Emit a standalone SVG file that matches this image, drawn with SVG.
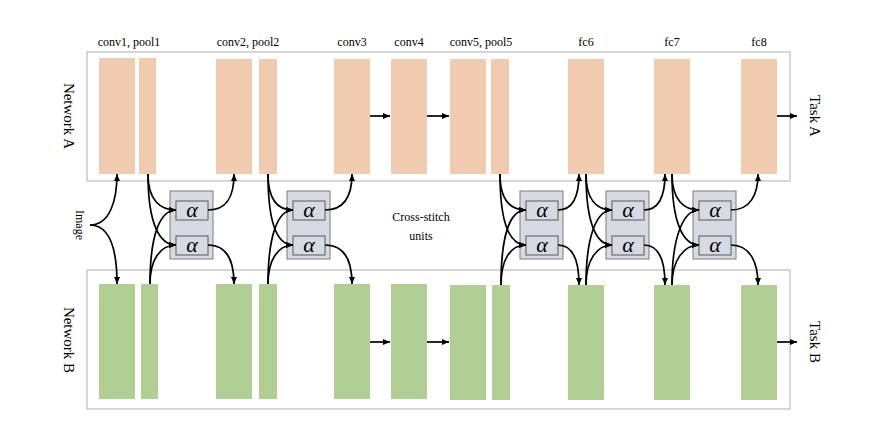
<svg xmlns="http://www.w3.org/2000/svg" width="873" height="447" viewBox="0 0 873 447">
<defs>
<marker id="ah" markerWidth="8" markerHeight="8" refX="7" refY="4" orient="auto" markerUnits="userSpaceOnUse"><path d="M0,1 L7,4 L0,7 z" fill="#000"/></marker>
<style>
.fr{fill:none;stroke:#bdbdbd;stroke-width:1.2}
.a{fill:#f0cbb0}.b{fill:#b1cf95}
.u{fill:#d6dae2;stroke:#7d7d7d;stroke-width:1}
.al{fill:#d6dae2;stroke:#6e6e6e;stroke-width:1.2}
.t{font-family:'Liberation Serif','DejaVu Serif',serif;font-size:12px;fill:#000}
.big{font-family:'Liberation Serif','DejaVu Serif',serif;font-size:15px;fill:#000}
.g{font-family:'Liberation Serif','DejaVu Serif',serif;font-style:italic;font-size:22px;fill:#000}
.c path{fill:none;stroke:#000;stroke-width:1.7}
</style>
</defs>
<rect width="873" height="447" fill="#fff"/>
<rect class="fr" x="87" y="52" width="703" height="129"/>
<rect class="fr" x="87" y="270" width="703" height="139"/>
<g id="labels">
<text class="t" x="129" y="46" text-anchor="middle">conv1, pool1</text>
<text class="t" x="248" y="46" text-anchor="middle">conv2, pool2</text>
<text class="t" x="352" y="46" text-anchor="middle">conv3</text>
<text class="t" x="409" y="46" text-anchor="middle">conv4</text>
<text class="t" x="481" y="46" text-anchor="middle">conv5, pool5</text>
<text class="t" x="586" y="46" text-anchor="middle">fc6</text>
<text class="t" x="672" y="46" text-anchor="middle">fc7</text>
<text class="t" x="759" y="46" text-anchor="middle">fc8</text>
<text class="big" transform="translate(64,116) rotate(90)" text-anchor="middle">Network A</text>
<text class="big" transform="translate(64,340) rotate(90)" text-anchor="middle">Network B</text>
<text class="big" transform="translate(810,116) rotate(90)" text-anchor="middle">Task A</text>
<text class="big" transform="translate(810,342) rotate(90)" text-anchor="middle">Task B</text>
<text class="t" transform="translate(76,225) rotate(90)" text-anchor="middle">Image</text>
<text class="t" x="421" y="221" text-anchor="middle">Cross-stitch</text>
<text class="t" x="421" y="240" text-anchor="middle">units</text>
</g>
<g id="networkA">
<rect class="a" x="99" y="58" width="36" height="116"/><rect class="a" x="139" y="58" width="17" height="116"/>
<rect class="a" x="216" y="59" width="36" height="115"/><rect class="a" x="259" y="59" width="18" height="115"/>
<rect class="a" x="334" y="59" width="36" height="115"/><rect class="a" x="391" y="59" width="36" height="115"/>
<rect class="a" x="450" y="59" width="36" height="115"/><rect class="a" x="491" y="59" width="18" height="115"/>
<rect class="a" x="568" y="59" width="36" height="115"/><rect class="a" x="654" y="59" width="36" height="115"/>
<rect class="a" x="741" y="59" width="36" height="115"/>
</g>
<g id="networkB">
<rect class="b" x="99" y="284" width="36" height="115"/><rect class="b" x="141" y="284" width="17" height="115"/>
<rect class="b" x="216" y="284" width="36" height="115"/><rect class="b" x="259" y="284" width="18" height="115"/>
<rect class="b" x="334" y="284" width="36" height="115"/><rect class="b" x="391" y="284" width="36" height="115"/>
<rect class="b" x="450" y="285" width="36" height="115"/><rect class="b" x="492" y="285" width="18" height="115"/>
<rect class="b" x="568" y="285" width="36" height="115"/><rect class="b" x="654" y="285" width="36" height="115"/>
<rect class="b" x="741" y="285" width="36" height="115"/>
</g>
<g id="unit1"><rect class="u" x="170" y="191" width="43" height="68"/><rect class="al" x="176" y="201" width="32" height="19"/><rect class="al" x="176" y="236" width="32" height="19"/><text class="g" x="192" y="217" text-anchor="middle">α</text><text class="g" x="192" y="252" text-anchor="middle">α</text></g>
<g id="unit2"><rect class="u" x="287" y="191" width="43" height="68"/><rect class="al" x="293" y="201" width="32" height="19"/><rect class="al" x="293" y="236" width="32" height="19"/><text class="g" x="309" y="217" text-anchor="middle">α</text><text class="g" x="309" y="252" text-anchor="middle">α</text></g>
<g id="unit3"><rect class="u" x="520" y="191" width="43" height="68"/><rect class="al" x="526" y="201" width="32" height="19"/><rect class="al" x="526" y="236" width="32" height="19"/><text class="g" x="542" y="217" text-anchor="middle">α</text><text class="g" x="542" y="252" text-anchor="middle">α</text></g>
<g id="unit4"><rect class="u" x="606" y="191" width="43" height="68"/><rect class="al" x="612" y="201" width="32" height="19"/><rect class="al" x="612" y="236" width="32" height="19"/><text class="g" x="628" y="217" text-anchor="middle">α</text><text class="g" x="628" y="252" text-anchor="middle">α</text></g>
<g id="unit5"><rect class="u" x="693" y="191" width="43" height="68"/><rect class="al" x="699" y="201" width="32" height="19"/><rect class="al" x="699" y="236" width="32" height="19"/><text class="g" x="715" y="217" text-anchor="middle">α</text><text class="g" x="715" y="252" text-anchor="middle">α</text></g>
<g id="connectors" class="c">
<path d="M90,225 C110,225 117,200 117,174" marker-end="url(#ah)"/>
<path d="M90,225 C110,225 117,250 117,284" marker-end="url(#ah)"/>
<path d="M370,116 H390" marker-end="url(#ah)"/><path d="M427,116 H449" marker-end="url(#ah)"/>
<path d="M370,342 H390" marker-end="url(#ah)"/><path d="M427,342 H449" marker-end="url(#ah)"/>
<path d="M777,116 H797" marker-end="url(#ah)"/><path d="M777,342 H797" marker-end="url(#ah)"/>
<path d="M148,174 C148,200 160,210 176,210" marker-end="url(#ah)"/>
<path d="M148,174 C148,225 160,245 176,245" marker-end="url(#ah)"/>
<path d="M150,284 C150,235 160,210 176,210" marker-end="url(#ah)"/>
<path d="M150,284 C150,260 160,245 176,245" marker-end="url(#ah)"/>
<path d="M208,210 C228,210 234,195 234,174" marker-end="url(#ah)"/>
<path d="M208,245 C228,245 234,262 234,284" marker-end="url(#ah)"/>
<path d="M268,174 C268,200 278,210 293,210" marker-end="url(#ah)"/>
<path d="M268,174 C268,225 278,245 293,245" marker-end="url(#ah)"/>
<path d="M268,284 C268,235 278,210 293,210" marker-end="url(#ah)"/>
<path d="M268,284 C268,260 278,245 293,245" marker-end="url(#ah)"/>
<path d="M325,210 C345,210 352,195 352,174" marker-end="url(#ah)"/>
<path d="M325,245 C345,245 352,262 352,284" marker-end="url(#ah)"/>
<path d="M500,174 C500,200 510,210 526,210" marker-end="url(#ah)"/>
<path d="M500,174 C500,225 510,245 526,245" marker-end="url(#ah)"/>
<path d="M501,285 C501,235 510,210 526,210" marker-end="url(#ah)"/>
<path d="M501,285 C501,260 510,245 526,245" marker-end="url(#ah)"/>
<path d="M558,210 C574,210 579,195 579,174" marker-end="url(#ah)"/>
<path d="M558,245 C574,245 579,262 579,285" marker-end="url(#ah)"/>
<path d="M586,174 C586,200 597,210 612,210" marker-end="url(#ah)"/>
<path d="M586,174 C586,225 597,245 612,245" marker-end="url(#ah)"/>
<path d="M586,285 C586,235 597,210 612,210" marker-end="url(#ah)"/>
<path d="M586,285 C586,260 597,245 612,245" marker-end="url(#ah)"/>
<path d="M644,210 C660,210 665,195 665,174" marker-end="url(#ah)"/>
<path d="M644,245 C660,245 665,262 665,285" marker-end="url(#ah)"/>
<path d="M672,174 C672,200 684,210 699,210" marker-end="url(#ah)"/>
<path d="M672,174 C672,225 684,245 699,245" marker-end="url(#ah)"/>
<path d="M672,285 C672,235 684,210 699,210" marker-end="url(#ah)"/>
<path d="M672,285 C672,260 684,245 699,245" marker-end="url(#ah)"/>
<path d="M731,210 C750,210 758,195 758,174" marker-end="url(#ah)"/>
<path d="M731,245 C750,245 758,262 758,285" marker-end="url(#ah)"/>
</g>
</svg>
